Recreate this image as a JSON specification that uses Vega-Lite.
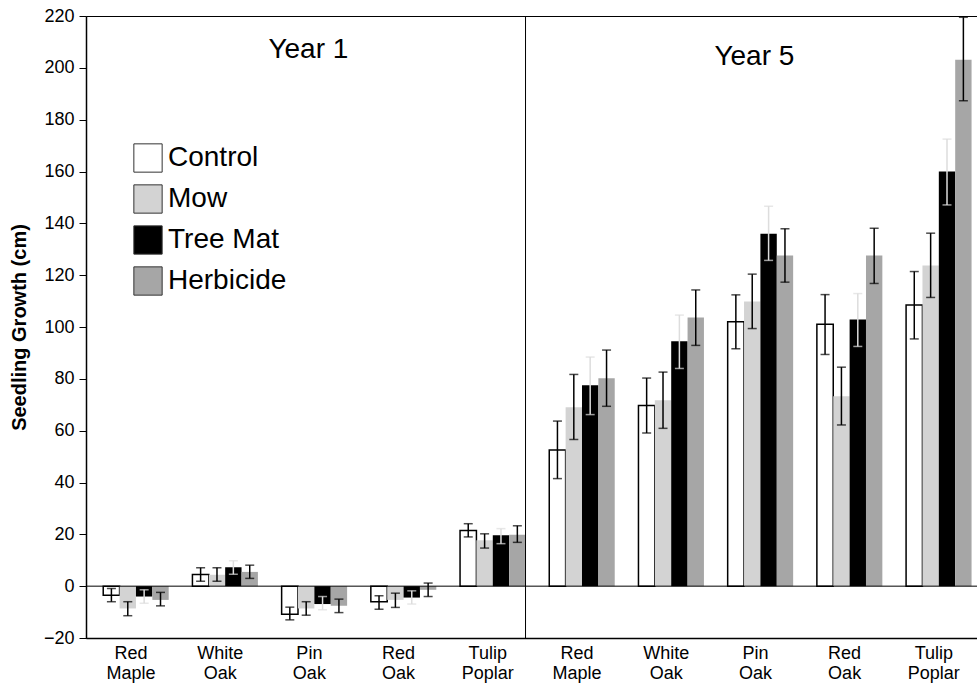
{
  "$schema": "https://vega.github.io/schema/vega-lite/v6.json",
  "width": 891,
  "height": 622,
  "autosize": {"type": "none"},
  "padding": {"left": 86, "top": 16, "right": 0, "bottom": 51},
  "background": "white",
  "config": {
    "font": "Liberation Sans",
    "view": {"stroke": "black", "strokeWidth": 1},
    "axis": {"grid": false, "domainColor": "black", "tickColor": "black", "labelColor": "black", "titleColor": "black"}
  },
  "datasets": {
    "bars": [
      {"key": "1|Red|Maple", "t": "Control", "v": -3.5, "lo": -6.0, "hi": -0.9},
      {"key": "1|Red|Maple", "t": "Mow", "v": -8.6, "lo": -11.4, "hi": -6.0},
      {"key": "1|Red|Maple", "t": "Tree Mat", "v": -4.0, "lo": -6.6, "hi": -1.4},
      {"key": "1|Red|Maple", "t": "Herbicide", "v": -5.3, "lo": -7.6, "hi": -2.4},
      {"key": "1|White|Oak", "t": "Control", "v": 4.5, "lo": 1.9, "hi": 7.1},
      {"key": "1|White|Oak", "t": "Mow", "v": 4.4, "lo": 1.9, "hi": 7.1},
      {"key": "1|White|Oak", "t": "Tree Mat", "v": 7.3, "lo": 4.6, "hi": 9.8},
      {"key": "1|White|Oak", "t": "Herbicide", "v": 5.5, "lo": 3.0, "hi": 8.1},
      {"key": "1|Pin|Oak", "t": "Control", "v": -10.8, "lo": -13.0, "hi": -8.1},
      {"key": "1|Pin|Oak", "t": "Mow", "v": -8.6, "lo": -11.2, "hi": -6.0},
      {"key": "1|Pin|Oak", "t": "Tree Mat", "v": -6.9, "lo": -9.1, "hi": -4.0},
      {"key": "1|Pin|Oak", "t": "Herbicide", "v": -7.6, "lo": -10.2, "hi": -5.0},
      {"key": "1|Red|Oak", "t": "Control", "v": -6.0, "lo": -8.9, "hi": -3.7},
      {"key": "1|Red|Oak", "t": "Mow", "v": -5.3, "lo": -8.2, "hi": -2.7},
      {"key": "1|Red|Oak", "t": "Tree Mat", "v": -4.4, "lo": -6.9, "hi": -1.8},
      {"key": "1|Red|Oak", "t": "Herbicide", "v": -1.4, "lo": -4.0, "hi": 1.2},
      {"key": "1|Tulip|Poplar", "t": "Control", "v": 21.5, "lo": 19.0, "hi": 24.1},
      {"key": "1|Tulip|Poplar", "t": "Mow", "v": 17.7, "lo": 14.7, "hi": 20.2},
      {"key": "1|Tulip|Poplar", "t": "Tree Mat", "v": 19.6, "lo": 16.4, "hi": 22.2},
      {"key": "1|Tulip|Poplar", "t": "Herbicide", "v": 19.8, "lo": 16.9, "hi": 23.3},
      {"key": "5|Red|Maple", "t": "Control", "v": 52.5, "lo": 41.5, "hi": 63.7},
      {"key": "5|Red|Maple", "t": "Mow", "v": 69.0, "lo": 56.6, "hi": 81.7},
      {"key": "5|Red|Maple", "t": "Tree Mat", "v": 77.5, "lo": 66.2, "hi": 88.4},
      {"key": "5|Red|Maple", "t": "Herbicide", "v": 80.2, "lo": 69.4, "hi": 91.1},
      {"key": "5|White|Oak", "t": "Control", "v": 69.7, "lo": 59.1, "hi": 80.3},
      {"key": "5|White|Oak", "t": "Mow", "v": 71.7, "lo": 60.9, "hi": 82.6},
      {"key": "5|White|Oak", "t": "Tree Mat", "v": 94.5, "lo": 84.0, "hi": 104.6},
      {"key": "5|White|Oak", "t": "Herbicide", "v": 103.7, "lo": 92.9, "hi": 114.3},
      {"key": "5|Pin|Oak", "t": "Control", "v": 102.0, "lo": 91.6, "hi": 112.4},
      {"key": "5|Pin|Oak", "t": "Mow", "v": 109.8, "lo": 99.4, "hi": 120.4},
      {"key": "5|Pin|Oak", "t": "Tree Mat", "v": 136.0, "lo": 125.7, "hi": 146.6},
      {"key": "5|Pin|Oak", "t": "Herbicide", "v": 127.6, "lo": 117.3, "hi": 137.9},
      {"key": "5|Red|Oak", "t": "Control", "v": 101.1, "lo": 89.4, "hi": 112.5},
      {"key": "5|Red|Oak", "t": "Mow", "v": 73.3, "lo": 62.2, "hi": 84.5},
      {"key": "5|Red|Oak", "t": "Tree Mat", "v": 102.9, "lo": 92.5, "hi": 112.9},
      {"key": "5|Red|Oak", "t": "Herbicide", "v": 127.6, "lo": 116.8, "hi": 138.1},
      {"key": "5|Tulip|Poplar", "t": "Control", "v": 108.5, "lo": 95.4, "hi": 121.4},
      {"key": "5|Tulip|Poplar", "t": "Mow", "v": 123.7, "lo": 111.4, "hi": 136.2},
      {"key": "5|Tulip|Poplar", "t": "Tree Mat", "v": 160.0, "lo": 147.1, "hi": 172.5},
      {"key": "5|Tulip|Poplar", "t": "Herbicide", "v": 203.1, "lo": 187.3, "hi": 219.5}
    ],
    "years": [
      {"key": "1|Pin|Oak", "y": 207, "label": "Year 1"},
      {"key": "5|Pin|Oak", "y": 204, "label": "Year 5"}
    ]
  },
  "layer": [
    {
      "data": {"name": "bars"},
      "mark": {"type": "bar", "strokeWidth": 1.5},
      "encoding": {
        "x": {
          "field": "key", "type": "nominal", "sort": null,
          "scale": {
            "domain": ["1|Red|Maple", "1|White|Oak", "1|Pin|Oak", "1|Red|Oak", "1|Tulip|Poplar", "5|Red|Maple", "5|White|Oak", "5|Pin|Oak", "5|Red|Oak", "5|Tulip|Poplar"],
            "paddingInner": 0.266, "paddingOuter": 0.127, "align": 0.76
          },
          "axis": {
            "title": null, "ticks": false, "labelAngle": 0, "labelFontSize": 18, "labelLineHeight": 20,
            "labelPadding": 6, "labelOffset": -5, "labelOverlap": false, "labelBound": false,
            "labelExpr": "slice(split(datum.value, '|'), 1)", "domainWidth": 1.5
          }
        },
        "xOffset": {
          "field": "t", "type": "nominal",
          "scale": {"domain": ["Control", "Mow", "Tree Mat", "Herbicide"], "paddingInner": 0, "paddingOuter": 0}
        },
        "y": {
          "field": "v", "type": "quantitative", "stack": null,
          "scale": {"domain": [-20, 220], "nice": false, "zero": false},
          "axis": {
            "title": "Seedling Growth (cm)", "titleFontSize": 20, "titleFontWeight": "bold",
            "values": [-20, 0, 20, 40, 60, 80, 100, 120, 140, 160, 180, 200, 220],
            "labelFontSize": 18, "tickSize": 7, "labelPadding": 5, "titlePadding": 14, "domainWidth": 1.5
          }
        },
        "fill": {
          "field": "t", "type": "nominal",
          "scale": {"domain": ["Control", "Mow", "Tree Mat", "Herbicide"], "range": ["#ffffff", "#d3d3d3", "#000000", "#a6a6a6"]},
          "legend": {
            "orient": "none", "legendX": 47, "legendY": 127, "title": null,
            "symbolType": "square", "symbolSize": 800, "labelFontSize": 28, "labelColor": "black",
            "rowPadding": 7, "labelOffset": 5, "symbolStrokeColor": "#333333", "symbolStrokeWidth": 1,
            "padding": 0
          }
        },
        "stroke": {"condition": {"test": "datum.t === 'Control'", "value": "black"}, "value": "transparent"}
      }
    },
    {
      "data": {"name": "bars"},
      "mark": {"type": "rule", "strokeWidth": 1.5},
      "encoding": {
        "x": {"field": "key", "type": "nominal", "sort": null},
        "xOffset": {"field": "t", "type": "nominal"},
        "y": {"field": "lo", "type": "quantitative"},
        "y2": {"field": "hi"},
        "color": {"condition": {"test": "datum.t === 'Tree Mat'", "value": "#dddddd"}, "value": "black"}
      }
    },
    {
      "data": {"name": "bars"},
      "mark": {"type": "tick", "size": 9, "thickness": 1.5, "orient": "horizontal"},
      "encoding": {
        "x": {"field": "key", "type": "nominal", "sort": null},
        "xOffset": {"field": "t", "type": "nominal"},
        "y": {"field": "lo", "type": "quantitative"},
        "color": {"condition": {"test": "datum.t === 'Tree Mat'", "value": "#dddddd"}, "value": "black"}
      }
    },
    {
      "data": {"name": "bars"},
      "mark": {"type": "tick", "size": 9, "thickness": 1.5, "orient": "horizontal"},
      "encoding": {
        "x": {"field": "key", "type": "nominal", "sort": null},
        "xOffset": {"field": "t", "type": "nominal"},
        "y": {"field": "hi", "type": "quantitative"},
        "color": {"condition": {"test": "datum.t === 'Tree Mat'", "value": "#dddddd"}, "value": "black"}
      }
    },
    {
      "data": {"values": [{"z": 0}]},
      "mark": {"type": "rule", "color": "black", "strokeWidth": 1},
      "encoding": {"y": {"field": "z", "type": "quantitative"}}
    },
    {
      "data": {"values": [{"key": "1|Tulip|Poplar"}]},
      "mark": {"type": "rule", "color": "black", "strokeWidth": 1},
      "encoding": {"x": {"field": "key", "type": "nominal", "sort": null, "bandPosition": 1}}
    },
    {
      "data": {"name": "years"},
      "mark": {"type": "text", "fontSize": 28, "dx": -6, "color": "black", "baseline": "middle"},
      "encoding": {
        "x": {"field": "key", "type": "nominal", "sort": null},
        "y": {"field": "y", "type": "quantitative"},
        "text": {"field": "label"}
      }
    }
  ]
}
